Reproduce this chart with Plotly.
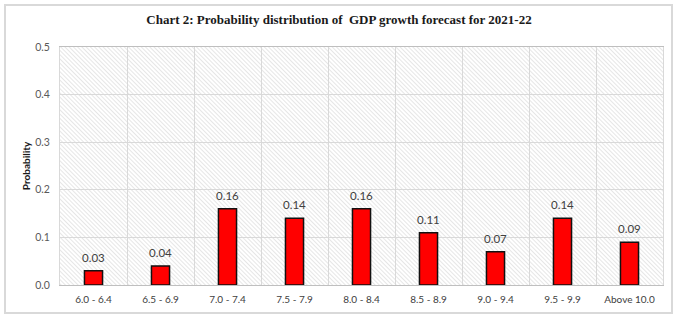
import base64
import plotly.graph_objects as go

# Forecast ranges for GDP growth (%) and their probabilities
growth_ranges = ["6.0 - 6.4", "6.5 - 6.9", "7.0 - 7.4", "7.5 - 7.9", "8.0 - 8.4",
                 "8.5 - 8.9", "9.0 - 9.4", "9.5 - 9.9", "Above 10.0"]
probabilities = [0.03, 0.04, 0.16, 0.14, 0.16, 0.11, 0.07, 0.14, 0.09]
y_ticks = [0.0, 0.1, 0.2, 0.3, 0.4, 0.5]

W, H = 678, 321
M_L, M_R, M_T, M_B = 60, 15, 47, 36
plot_w, plot_h = W - M_L - M_R, H - M_T - M_B

# Fine diagonal hatch used as the plot-area fill
hatch_svg = f"""<svg xmlns='http://www.w3.org/2000/svg' width='{plot_w}' height='{plot_h}'>
<defs><pattern id='h' width='3' height='3' patternUnits='userSpaceOnUse' patternTransform='rotate(-45)'>
<rect width='3' height='3' fill='#ffffff'/><line x1='0' y1='0' x2='0' y2='3' stroke='#d6d6d6' stroke-width='1.2'/>
</pattern></defs><rect width='100%' height='100%' fill='url(#h)'/></svg>"""
hatch_uri = "data:image/svg+xml;base64," + base64.b64encode(hatch_svg.encode()).decode()

fig = go.Figure(
    go.Bar(
        x=growth_ranges,
        y=probabilities,
        width=0.27,
        marker=dict(color="#ff0000", line=dict(color="#111111", width=1.5)),
        hoverinfo="x+y",
    )
)

# Value labels above each bar
annotations = [
    dict(x=cat, y=val, xref="x", yref="y", text=f"{val:.2f}", showarrow=False,
         yanchor="bottom", yshift=5,
         font=dict(family="Lato", size=11.5, color="#404040"))
    for cat, val in zip(growth_ranges, probabilities)
]

fig.update_layout(
    width=W,
    height=H,
    margin=dict(l=M_L, r=M_R, t=M_T, b=M_B),
    paper_bgcolor="white",
    plot_bgcolor="white",
    showlegend=False,
    annotations=annotations,
    title=dict(
        text="<b>Chart 2: Probability distribution of  GDP growth forecast for 2021-22</b>",
        x=0.5, xanchor="center", y=1 - 19 / H, yanchor="middle",
        font=dict(family="Liberation Serif", size=13, color="#1a1a1a"),
    ),
    xaxis=dict(
        type="category",
        tickson="boundaries",
        showgrid=True,
        gridcolor="#d9d9d9",
        gridwidth=1,
        ticks="",
        ticklabelstandoff=5,
        showline=True,
        linecolor="#bfbfbf",
        mirror=True,
        tickfont=dict(family="Lato", size=10, color="#404040"),
    ),
    yaxis=dict(
        range=[0, 0.5],
        tickvals=y_ticks,
        ticktext=[f"{v:.1f}" for v in y_ticks],
        showgrid=True,
        gridcolor="#d9d9d9",
        gridwidth=1,
        zeroline=False,
        showline=True,
        linecolor="#d9d9d9",
        mirror=True,
        ticks="",
        ticklabelstandoff=7,
        tickfont=dict(family="Lato", size=10.5, color="#595959"),
        title=dict(text="<b>Probability</b>", standoff=2,
                   font=dict(family="Lato", size=10, color="#1a1a1a")),
    ),
    images=[dict(
        source=hatch_uri, xref="paper", yref="paper", x=0, y=1,
        sizex=1, sizey=1, xanchor="left", yanchor="top",
        sizing="stretch", layer="below",
    )],
    shapes=[dict(
        type="rect", xref="paper", yref="paper",
        x0=(5 - M_L) / plot_w, x1=(672 - M_L) / plot_w,
        y0=-(313 - (H - M_B)) / plot_h, y1=1 + (M_T - 5) / plot_h,
        line=dict(color="#d9d9d9", width=2), fillcolor="rgba(0,0,0,0)",
        layer="below",
    )],
)

fig.write_html("out.html")
